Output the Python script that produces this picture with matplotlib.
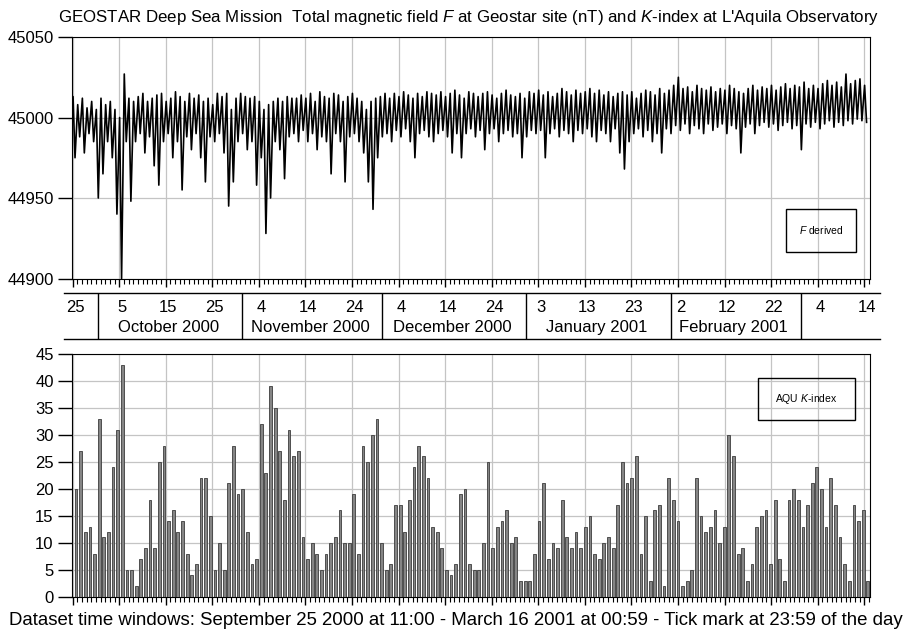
import numpy as np
import pandas as pd
import matplotlib
matplotlib.use('Agg')
import matplotlib.pyplot as plt
from matplotlib.patches import Rectangle

plt.rcParams['font.family'] = ['Liberation Sans', 'DejaVu Sans']
plt.rcParams['mathtext.fontset'] = 'custom'
plt.rcParams['mathtext.it'] = 'Liberation Sans:italic'
plt.rcParams['mathtext.rm'] = 'Liberation Sans'

# day 0 = 25 Sep 2000 00:00 ; one entry per day up to 15 Mar 2001
t0 = pd.Timestamp('2000-09-25')
t_start = 0.458    # 25 Sep 11:00
t_end = 172.04     # 16 Mar 00:59

# daily upper / lower envelope of F (nT)
f_hi = [45010, 45013, 45008, 45012, 45006, 45010, 45005, 45012, 45008, 45010,
        45005, 45000, 45027, 45012, 45010, 45013, 45015, 45010, 45012, 45014,
        45015, 45010, 45012, 45016, 45013, 45010, 45015, 45012, 45014, 45010,
        45012, 45008, 45015, 45013, 45015, 45005, 45012, 45015, 45013, 45012,
        45013, 45010, 45005, 45008, 45010, 45012, 45010, 45013, 45012, 45012,
        45014, 45012, 45015, 45010, 45016, 45013, 45012, 45015, 45014, 45010,
        45013, 45015, 45012, 45010, 45005, 45010, 45012, 45013, 45015, 45012,
        45015, 45013, 45016, 45014, 45012, 45015, 45013, 45016, 45015, 45014,
        45016, 45013, 45015, 45017, 45014, 45012, 45016, 45015, 45013, 45015,
        45016, 45014, 45012, 45015, 45017, 45014, 45013, 45015, 45012, 45016,
        45015, 45017, 45014, 45016, 45013, 45015, 45018, 45016, 45014, 45017,
        45015, 45016, 45018, 45015, 45017, 45014, 45016, 45013, 45015, 45016,
        45014, 45016, 45012, 45015, 45017, 45016, 45014, 45018, 45015, 45017,
        45020, 45025, 45018, 45019, 45016, 45020, 45018, 45017, 45019, 45016,
        45018, 45017, 45020, 45018, 45016, 45015, 45018, 45020, 45017, 45019,
        45018, 45020, 45017, 45019, 45021, 45018, 45020, 45019, 45022, 45018,
        45020, 45018, 45021, 45023, 45020, 45022, 45019, 45027, 45021, 45023,
        45024, 45020]
f_lo = [44985, 44975, 44988, 44978, 44990, 44985, 44950, 44965, 44985, 44975,
        44940, 44900, 44985, 44948, 44985, 44990, 44978, 44988, 44970, 44958,
        44985, 44990, 44975, 44985, 44955, 44988, 44980, 44990, 44975, 44960,
        44988, 44985, 44990, 44978, 44945, 44960, 44985, 44990, 44980, 44985,
        44958, 44975, 44928, 44950, 44985, 44980, 44962, 44988, 44990, 44985,
        44992, 44985, 44990, 44980, 44988, 44985, 44965, 44990, 44985, 44960,
        44988, 44990, 44985, 44978, 44960, 44943, 44975, 44988, 44990, 44985,
        44992, 44988, 44993, 44985, 44975, 44990, 44992, 44988, 44985, 44990,
        44992, 44988, 44978, 44990, 44975, 44990, 44993, 44988, 44992, 44980,
        44990, 44993, 44985, 44990, 44992, 44988, 44990, 44975, 44988, 44992,
        44990, 44992, 44975, 44990, 44993, 44988, 44992, 44990, 44985, 44992,
        44990, 44993, 44988, 44985, 44992, 44990, 44985, 44993, 44978, 44968,
        44985, 44990, 44993, 44988, 44992, 44985, 44990, 44978, 44993, 44990,
        44995, 44992, 44996, 44990, 44995, 44993, 44990, 44996, 44992, 44994,
        44996, 44990, 44995, 44993, 44978, 44994, 44996, 44990, 44995, 44997,
        44994, 44996, 44992, 44995, 44997, 44993, 44995, 44980, 44996, 44994,
        44997, 44993, 44996, 44998, 44994, 44997, 44995, 44998, 44996, 44999,
        44998, 44997]

# daily K-index sum at L'Aquila
k_sum = [20, 27, 12, 13, 8, 33, 11, 12, 24, 31, 43, 5, 5, 2, 7, 9, 18, 9, 25, 28,
         14, 16, 12, 14, 8, 4, 6, 22, 22, 15, 5, 10, 5, 21, 28, 19, 20, 12, 6, 7,
         32, 23, 39, 35, 27, 18, 31, 26, 27, 11, 7, 10, 8, 5, 8, 10, 11, 16, 10, 10,
         19, 8, 28, 25, 30, 33, 10, 5, 6, 17, 17, 12, 18, 24, 28, 26, 22, 13, 12, 9,
         5, 4, 6, 19, 20, 6, 5, 5, 10, 25, 9, 13, 14, 16, 10, 11, 3, 3, 3, 8,
         14, 21, 7, 10, 9, 18, 11, 9, 12, 9, 13, 15, 8, 7, 10, 11, 9, 17, 25, 21,
         22, 26, 8, 15, 3, 16, 17, 2, 22, 18, 14, 2, 3, 5, 22, 15, 12, 13, 16, 10,
         13, 30, 26, 8, 9, 3, 6, 13, 15, 16, 6, 18, 7, 3, 18, 20, 18, 13, 17, 21,
         24, 20, 13, 22, 17, 11, 6, 3, 17, 14, 16, 3]

days = np.arange(len(k_sum))

# F trace: night level then noon dip for each day
ft = np.column_stack([days + 0.08, days + 0.5]).ravel()
fv = np.column_stack([f_hi, f_lo]).ravel()
keep = (ft >= t_start) & (ft <= t_end)
ft, fv = ft[keep], fv[keep]

xlo, xhi = 0.79, 172.25
major = np.arange(1, 172, 10)      # 23:59 of every 10th day
minor = np.arange(1, 173)

fig = plt.figure(figsize=(9.1, 6.36), dpi=100)
L, W = 0.0788, 0.8773
ax1 = fig.add_axes([L, 0.5621, W, 0.3797])
axb = fig.add_axes([L, 0.467, W, 0.0723])
ax2 = fig.add_axes([L, 0.0618, W, 0.3816])

gcol = '#c4c4c4'

# --- top panel: F
ax1.plot(ft, fv, color='k', lw=1.2)
ax1.set_xlim(xlo, xhi)
ax1.set_ylim(44900, 45050)
ax1.set_yticks([44900, 44950, 45000, 45050])
ax1.set_xticks(major)
ax1.set_xticks(minor, minor=True)
ax1.grid(True, which='major', color=gcol, lw=0.9)
ax1.set_axisbelow(True)
ax1.tick_params(axis='y', direction='out', length=10, width=1, labelsize=12, pad=3)
ax1.tick_params(axis='x', which='major', direction='out', length=6, width=1, labelbottom=False)
ax1.tick_params(axis='x', which='minor', direction='out', length=3.5, width=0.8)
ax1.add_patch(Rectangle((0.895, 0.11), 0.088, 0.178, transform=ax1.transAxes,
                        fill=False, ec='k', lw=1))
ax1.text(0.939, 0.199, r'$F$ derived', transform=ax1.transAxes,
         ha='center', va='center', fontsize=7.5)

# --- bottom panel: K (bars on their own day-category scale)
ax2.set_xlim(xlo, xhi)
ax2.set_ylim(0, 45)
ax2.set_yticks(np.arange(0, 46, 5))
ax2.set_xticks(major)
ax2.set_xticks(minor, minor=True)
ax2.grid(True, which='major', color=gcol, lw=0.9)
ax2.tick_params(axis='y', direction='out', length=10, width=1, labelsize=12, pad=3)
ax2.tick_params(axis='x', which='major', direction='out', length=6, width=1,
                top=True, labelbottom=False)
ax2.tick_params(axis='x', which='minor', direction='out', length=3.5, width=0.8, top=True)

axk = ax2.twiny()
axk.bar(days, k_sum, width=0.6, color='#858585', edgecolor='#3c3c3c', lw=0.6)
axk.set_xlim(-0.93, 171.49)
axk.axis('off')
axk.add_patch(Rectangle((0.86, 0.728), 0.121, 0.173, transform=axk.transAxes,
                        fill=False, ec='k', lw=1))
axk.text(0.9205, 0.815, r'AQU $K$-index', transform=axk.transAxes,
         ha='center', va='center', fontsize=7.5)

# --- date band between the panels
axb.set_xlim(xlo, xhi)
axb.set_ylim(0, 1)
axb.axis('off')
for yy in (0, 1):
    axb.plot([-0.0096, 1.0122], [yy, yy], color='k', lw=1,
             transform=axb.transAxes, clip_on=False)
for d in major:
    lab = (t0 + pd.Timedelta(days=int(d) - 1)).day
    axb.text(d + 0.5, 0.69, str(lab), ha='center', va='center', fontsize=12)
mstarts = pd.date_range('2000-10-01', '2001-03-01', freq='MS')
mpos = [(m - t0).days for m in mstarts]
for p in mpos:
    axb.plot([p + 0.4, p + 0.4], [0, 1], color='k', lw=1)
for m, a, b in zip(mstarts[:-1], mpos[:-1], mpos[1:]):
    axb.text((a + b) / 2, 0.26, m.strftime('%B %Y'), ha='center', va='center', fontsize=12)

fig.text(0.515, 0.973,
         r"GEOSTAR Deep Sea Mission  Total magnetic field $F$ at Geostar site (nT) and $K$-index at L'Aquila Observatory",
         ha='center', va='center', fontsize=12.2)
fig.text(0.501, 0.025,
         'Dataset time windows: September 25 2000 at 11:00 - March 16 2001 at 00:59 - Tick mark at 23:59 of the day',
         ha='center', va='center', fontsize=13.4)

fig.savefig('out.png', dpi=100)
